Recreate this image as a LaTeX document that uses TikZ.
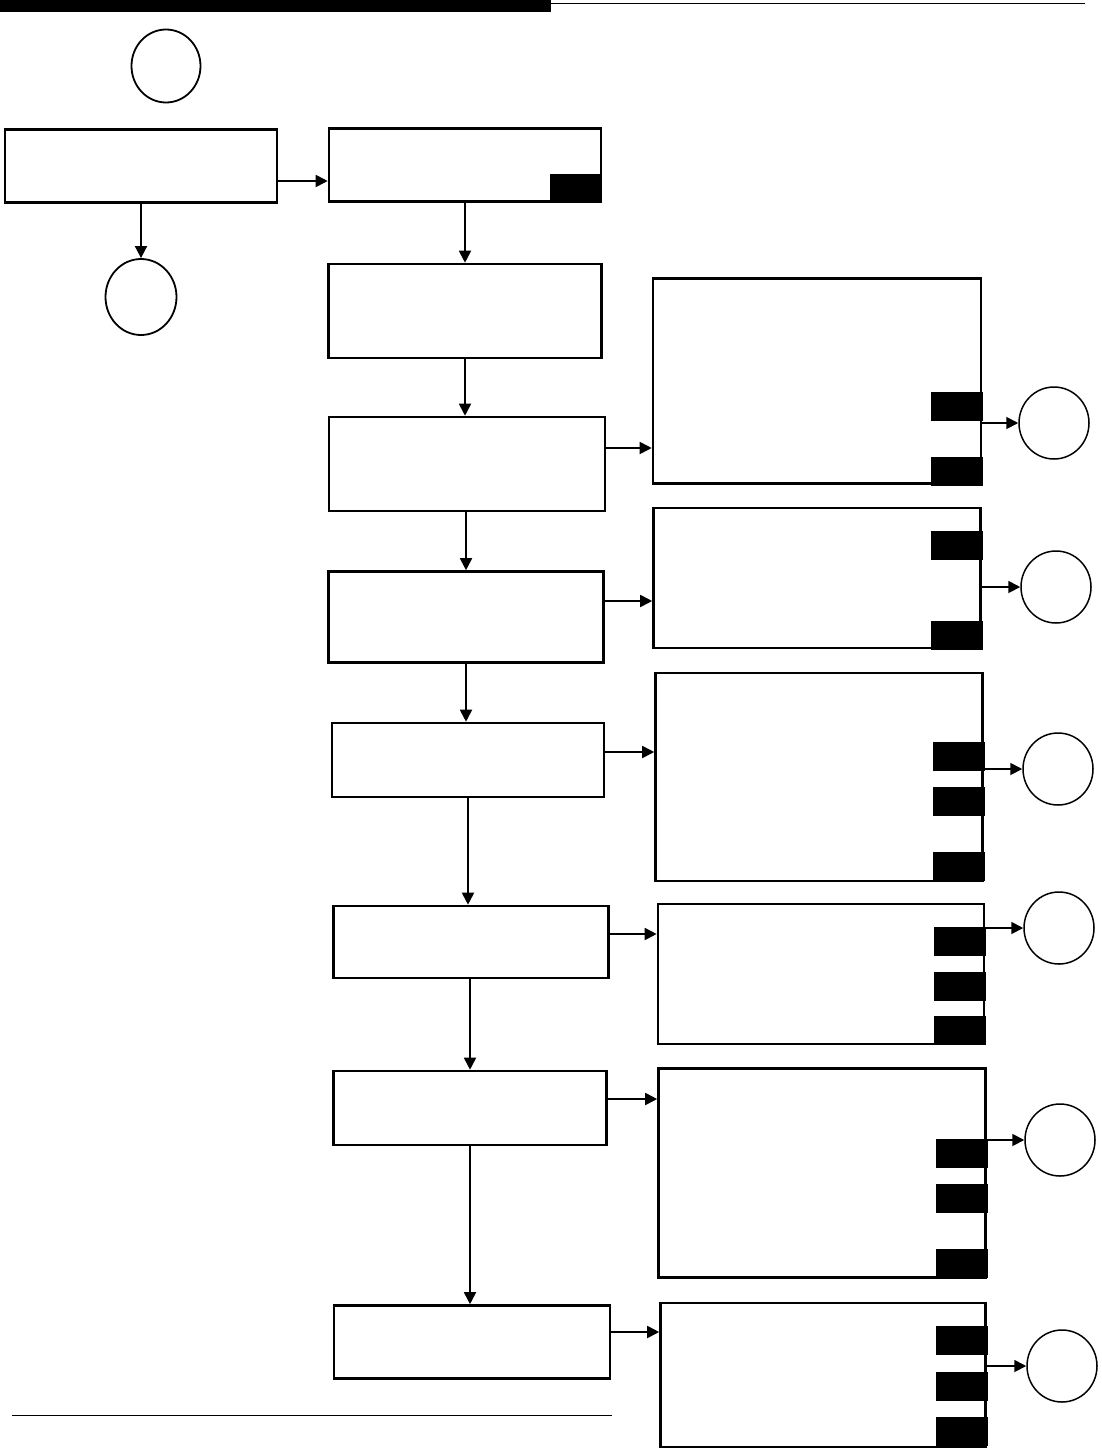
\documentclass[tikz,border=0pt]{standalone}
\usetikzlibrary{arrows.meta,shapes.geometric,calc}
\begin{document}
\begin{tikzpicture}[x=1pt,y=-1pt,
  box/.style={draw, line width=2.6pt, inner sep=0pt, rectangle},
  blk/.style={fill=black, draw=none, inner sep=0pt, minimum width=52pt, minimum height=29pt, anchor=north east},
  term/.style={draw, line width=1.8pt, ellipse, inner sep=0pt, minimum width=70pt, minimum height=72pt},
  arr/.style={line width=1.8pt, -{Triangle[length=12pt,width=12pt]}}]
\useasboundingbox (0,0) rectangle (1101,1451);
% header and footer rules
\fill[black] (0,0) rectangle (551,12);
\draw[line width=1pt] (551,3) -- (1085,3);
\draw[line width=1pt] (12,1415) -- (612,1415);
% left column
\node[term, minimum width=69pt, minimum height=73pt] (t0) at (166,66) {};
\node[box, minimum width=272pt, minimum height=73pt] (A) at (141,166) {};
\node[term, minimum width=71pt, minimum height=76pt] (t1) at (141,297) {};
% centre column
\node[box, minimum width=272pt, minimum height=73pt] (B) at (465,165) {};
\node[box, minimum width=273pt, minimum height=94pt] (C) at (465,311) {};
\node[box, minimum width=276pt, minimum height=94pt] (D) at (467,464) {};
\node[box, minimum width=275pt, minimum height=91pt] (F) at (466,617) {};
\node[box, minimum width=272pt, minimum height=74pt] (G) at (468,760) {};
\node[box, minimum width=275pt, minimum height=72pt] (H) at (471,942) {};
\node[box, minimum width=273pt, minimum height=74pt] (I) at (470,1108) {};
\node[box, minimum width=276pt, minimum height=73pt] (J) at (472,1342) {};
\node[blk, anchor=south east] (bB) at (602,203) {};
% right column boxes
\node[box, minimum width=328pt, minimum height=205pt] (E1) at (817,381) {};
\node[box, minimum width=327pt, minimum height=140pt] (E2) at (817,578) {};
\node[box, minimum width=327pt, minimum height=208pt] (E3) at (819,777) {};
\node[box, minimum width=326pt, minimum height=140pt] (E4) at (821,974) {};
\node[box, minimum width=327pt, minimum height=209pt] (E5) at (822,1173) {};
\node[box, minimum width=325pt, minimum height=144pt] (E6) at (823,1375) {};
% black tabs
\node[blk] (e1a) at (983,392) {};
\node[blk] (e1b) at (983,457) {};
\node[blk] (e2a) at (983,531) {};
\node[blk] (e2b) at (983,621) {};
\node[blk] (e3a) at (985,742) {};
\node[blk] (e3b) at (985,787) {};
\node[blk] (e3c) at (985,852) {};
\node[blk] (e4a) at (986,927) {};
\node[blk] (e4b) at (986,972) {};
\node[blk] (e4c) at (986,1016) {};
\node[blk] (e5a) at (988,1139) {};
\node[blk] (e5b) at (988,1184) {};
\node[blk] (e5c) at (988,1249) {};
\node[blk] (e6a) at (988,1326) {};
\node[blk] (e6b) at (988,1372) {};
\node[blk] (e6c) at (988,1417) {};
% right terminals
\node[term, line width=1.5pt] (c1) at (1054,423) {};
\node[term, line width=1.5pt] (c2) at (1056,587) {};
\node[term, line width=1.5pt] (c3) at (1058,769) {};
\node[term, line width=1.5pt] (c4) at (1059,928) {};
\node[term, line width=1.5pt] (c5) at (1060,1140) {};
\node[term, line width=1.5pt] (c6) at (1062,1366) {};
% vertical connectors
\draw[arr] (A.south) -- (A.south |- t1.north);
\draw[arr] (B.south) -- (B.south |- C.north);
\draw[arr] (C.south) -- (C.south |- D.north);
\draw[arr] (F.north |- D.south) -- (F.north);
\draw[arr] (F.south) -- (F.south |- G.north);
\draw[arr] (G.south) -- (G.south |- H.north);
\draw[arr] (I.north |- H.south) -- (I.north);
\draw[arr] (I.south) -- (I.south |- J.north);
% horizontal connectors
\path ($(A.east)+(0,15)$) coordinate (pa);
\draw[arr] (pa) -- (pa -| B.west);
\path ($(D.east)+(0,-16)$) coordinate (pd);
\draw[arr] (pd) -- (pd -| E1.west);
\path ($(F.east)+(0,-16)$) coordinate (pf);
\draw[arr] (pf) -- (pf -| E2.west);
\path ($(G.east)+(0,-8)$) coordinate (pg);
\draw[arr] (pg) -- (pg -| E3.west);
\path ($(H.east)+(0,-8)$) coordinate (ph);
\draw[arr] (ph) -- (ph -| E4.west);
\path ($(I.east)+(0,-9)$) coordinate (pi);
\draw[arr] (pi) -- (pi -| E5.west);
\path ($(J.east)+(0,-10)$) coordinate (pj);
\draw[arr] (pj) -- (pj -| E6.west);
% to terminals
\draw[arr] (c1.west -| E1.east) -- (c1.west);
\draw[arr] (c2.west -| E2.east) -- (c2.west);
\draw[arr] (c3.west -| E3.east) -- (c3.west);
\draw[arr] (c4.west -| E4.east) -- (c4.west);
\draw[arr] (c5.west -| E5.east) -- (c5.west);
\draw[arr] (c6.west -| E6.east) -- (c6.west);
\end{tikzpicture}
\end{document}
